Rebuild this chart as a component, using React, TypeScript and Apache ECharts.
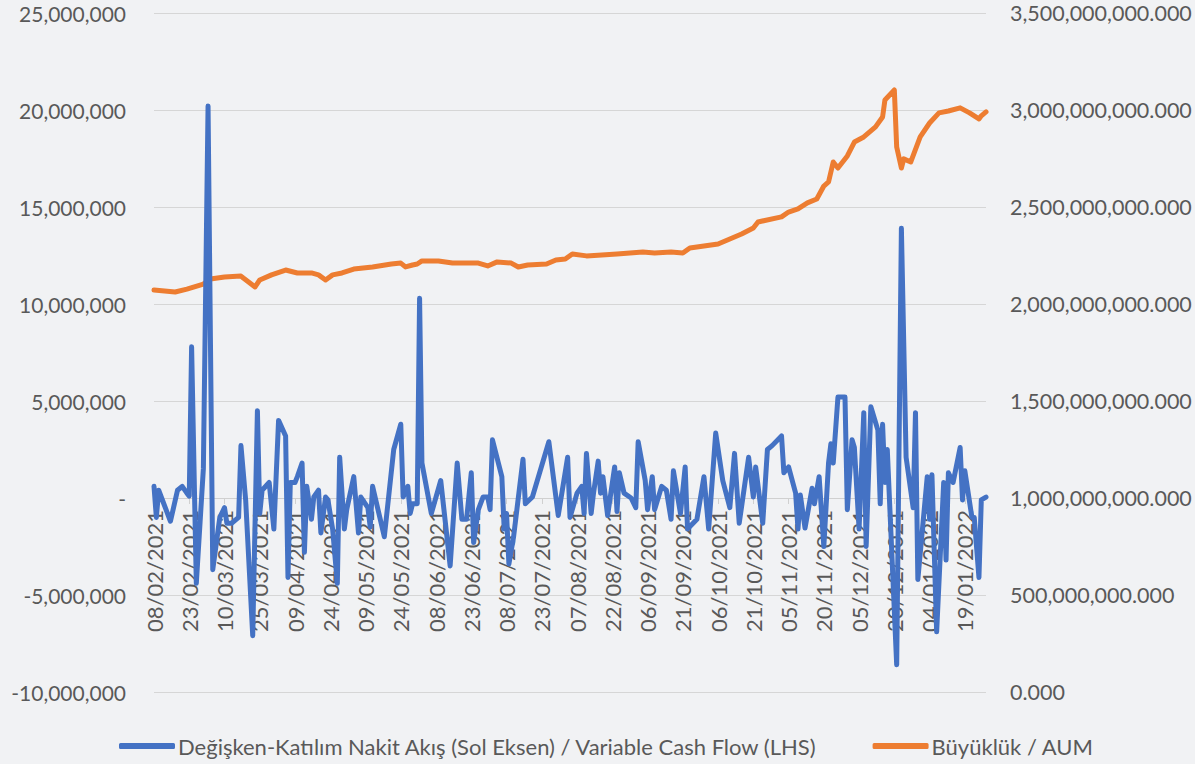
import React, { useEffect, useRef } from "react";
import * as echarts from "echarts";

// Day offsets from 08/02/2021 and cash flow values (millions)
const START_DATE = Date.UTC(2021, 1, 8);
const cashFlowDays = [
  0, 1, 2, 7, 10, 12, 14, 15, 16, 18,
  21, 23, 25, 28, 30, 31, 33, 36, 37, 39,
  42, 44, 45, 46, 49, 51, 53, 56, 57, 58,
  60, 61, 63, 64, 65, 67, 68, 70, 71, 73,
  74, 76, 78, 79, 81, 82, 85, 87, 88, 91,
  92, 93, 98, 102, 105, 106, 108, 109, 110, 112,
  113, 114, 116, 118, 122, 126, 129, 131, 133, 135,
  136, 138, 140, 142, 143, 144, 148, 149, 150, 151,
  153, 157, 158, 161, 168, 172, 176, 177, 180, 182,
  183, 184, 186, 187, 189, 190, 191, 193, 196, 197,
  198, 200, 203, 205, 206, 209, 210, 212, 213, 216,
  218, 220, 221, 224, 226, 227, 231, 234, 236, 239,
  242, 245, 247, 249, 253, 255, 256, 259, 261, 263,
  267, 268, 270, 273, 274, 275, 277, 280, 281, 283,
  285, 287, 288, 289, 291, 294, 295, 297, 298, 300,
  302, 303, 305, 308, 309, 310, 311, 312, 316, 318,
  320, 323, 324, 325, 329, 330, 331, 333, 336, 337,
  338, 340, 343, 344, 345, 348, 349, 351, 352, 354,
];
const cashFlowValues = [
  0.6, -1.0, 0.4, -1.2, 0.4, 0.6, 0.25, 0.1, 7.8, -4.4,
  1.5, 20.2, -3.7, -1.0, -0.5, -1.3, -1.3, -1.0, 2.7, -0.1,
  -7.1, 4.5, -0.8, 0.4, 0.8, -1.6, 4.0, 3.2, -4.1, 0.8,
  0.8, 1.1, 1.8, -2.8, 0.6, -1.1, 0.05, 0.4, -1.8, 0.05,
  -0.1, -1.6, -4.4, 2.1, -1.6, -0.6, 1.1, -1.8, 0.05, -0.5,
  -1.5, 0.6, -2.0, 2.5, 3.8, 0.05, 0.6, -0.8, -0.3, -0.3,
  10.3, 1.8, 0.5, -0.8, 0.9, -3.5, 1.8, -1.1, -1.1, 1.3,
  -2.3, -0.6, 0.05, 0.05, -0.6, 3.0, 1.1, -1.6, -0.8, -3.4,
  -2.0, 2.0, -0.3, 0.05, 2.9, -0.9, 2.1, -1.0, 0.25, 0.6,
  -0.8, 2.3, -0.8, 0.25, 1.9, 0.25, 1.1, -0.9, 1.6, -0.7,
  1.3, 0.25, 0.0, -0.5, 2.9, 0.9, -0.6, 1.1, -0.6, 0.6,
  0.4, -1.1, 1.4, -0.8, 1.6, -1.6, -1.1, 1.1, -1.6, 3.35,
  0.9, -0.5, 2.3, -1.3, 2.1, 0.05, 1.6, -1.3, 2.5, 2.7,
  3.2, 1.3, 1.6, 0.25, -1.6, 0.15, -1.55, 0.5, -0.3, 1.1,
  -2.5, 1.8, 2.8, 1.8, 5.2, 5.2, -0.6, 3.0, 2.6, -1.6,
  4.4, -2.5, 4.7, 3.5, -0.3, 3.8, 0.8, 2.5, -8.6, 13.9,
  2.1, -0.5, 4.4, -4.2, 1.1, -1.1, 1.2, -6.9, 0.8, -3.2,
  1.3, 0.8, 2.6, -0.1, 1.4, -1.0, -1.0, -4.1, -0.1, 0.05,
];

// AUM (millions)
const aumDays = [
  0, 9, 14, 21, 24, 30, 37, 38, 43, 45,
  50, 56, 61, 67, 70, 73, 76, 80, 85, 93,
  101, 105, 107, 110, 112, 114, 121, 127, 131, 138,
  142, 146, 152, 155, 159, 167, 171, 175, 178, 184,
  197, 208, 213, 220, 225, 228, 234, 240, 246, 250,
  255, 257, 267, 270, 274, 278, 282, 285, 287, 289,
  291, 295, 298, 302, 307, 310, 311, 315, 316, 318,
  319, 322, 326, 330, 334, 338, 343, 347, 351, 352,
  354,
];
const aumValues = [
  2072, 2062, 2077, 2103, 2129, 2139, 2144, 2134, 2088, 2124,
  2150, 2175, 2160, 2160, 2150, 2124, 2150, 2160, 2180, 2191,
  2206, 2211, 2191, 2201, 2206, 2222, 2222, 2211, 2211, 2211,
  2196, 2217, 2211, 2191, 2201, 2206, 2227, 2232, 2258, 2248,
  2258, 2268, 2263, 2268, 2263, 2289, 2299, 2309, 2340, 2361,
  2392, 2423, 2449, 2474, 2490, 2521, 2541, 2608, 2629, 2732,
  2701, 2763, 2835, 2861, 2913, 2964, 3052, 3103, 2809, 2701,
  2748, 2732, 2861, 2933, 2985, 2995, 3011, 2985, 2954, 2970,
  2990,
];

const SERIES_CASH = "Değişken-Katılım Nakit Akış (Sol Eksen) / Variable Cash Flow (LHS)";
const SERIES_AUM = "Büyüklük / AUM";

const commas = (n: number) => {
  const neg = n < 0;
  const s = Math.round(Math.abs(n)).toString().replace(/\B(?=(\d{3})+(?!\d))/g, ",");
  return (neg ? "-" : "") + s;
};
const pad = (n: number) => (n < 10 ? "0" + n : "" + n);
const dayLabel = (v: number) => {
  const d = new Date(START_DATE + v * 86400000);
  return `${pad(d.getUTCDate())}/${pad(d.getUTCMonth() + 1)}/${d.getUTCFullYear()}`;
};

const FONT = "Lato";
const TEXT = "#595959";
const GRID_TOP = 13;
const GRID_BOTTOM = 72;
const GRID_HEIGHT = 764 - GRID_TOP - GRID_BOTTOM;
const LEFT_MIN = -10;
const LEFT_MAX = 25;
// distance from grid bottom to the zero line
const ZERO_OFFSET = (GRID_HEIGHT * (0 - LEFT_MIN)) / (LEFT_MAX - LEFT_MIN);

export default function App() {
  const ref = useRef<HTMLDivElement>(null);
  useEffect(() => {
    if (!ref.current) return;
    const chart = echarts.init(ref.current, undefined, { renderer: "svg" });
    chart.setOption({
      animation: false,
      backgroundColor: "#f1f2f4",
      textStyle: { fontFamily: FONT },
      grid: {
        left: 154,
        right: 209,
        top: GRID_TOP,
        bottom: GRID_BOTTOM,
        containLabel: false,
        outerBoundsMode: "none",
      },
      legend: {
        top: 730,
        left: 114,
        itemWidth: 56,
        itemHeight: 6,
        itemGap: 55,
        icon: "roundRect",
        textStyle: { color: TEXT, fontSize: 22, fontFamily: FONT, padding: [0, 0, 0, -2] },
        data: [SERIES_CASH, SERIES_AUM],
      },
      xAxis: {
        type: "value",
        min: 0,
        max: 354,
        interval: 15,
        position: "bottom",
        offset: -ZERO_OFFSET,
        axisLine: { onZero: false, lineStyle: { color: "#d0d0d0", width: 1 } },
        axisTick: { show: true, length: 6, lineStyle: { color: "#d0d0d0" } },
        splitLine: { show: false },
        axisLabel: {
          rotate: 90,
          margin: 12,
          color: TEXT,
          fontSize: 22,
          fontFamily: FONT,
          showMaxLabel: false,
          formatter: (v: number) => dayLabel(v),
        },
      },
      yAxis: [
        {
          type: "value",
          min: LEFT_MIN,
          max: LEFT_MAX,
          interval: 5,
          axisLine: { show: false },
          axisTick: { show: false },
          splitLine: { lineStyle: { color: "#d6d6d6", width: 1.2 } },
          axisLabel: {
            color: TEXT,
            fontSize: 21,
            fontFamily: FONT,
            margin: 28,
            formatter: (v: number) => (v === 0 ? "-" : commas(v * 1e6)),
          },
        },
        {
          type: "value",
          min: 0,
          max: 3500,
          interval: 500,
          position: "right",
          axisLine: { show: false },
          axisTick: { show: false },
          splitLine: { show: false },
          axisLabel: {
            color: TEXT,
            fontSize: 21.5,
            fontFamily: FONT,
            margin: 24,
            formatter: (v: number) => commas(v * 1e6) + ".000",
          },
        },
      ],
      series: [
        {
          name: SERIES_CASH,
          type: "line",
          yAxisIndex: 0,
          symbol: "none",
          z: 3,
          color: "#4472C4",
          lineStyle: { color: "#4472C4", width: 5, cap: "round", join: "round" },
          data: cashFlowDays.map((d, i) => [d, cashFlowValues[i]]),
        },
        {
          name: SERIES_AUM,
          type: "line",
          yAxisIndex: 1,
          symbol: "none",
          z: 2,
          color: "#ED7D31",
          lineStyle: { color: "#ED7D31", width: 5, cap: "round", join: "round" },
          data: aumDays.map((d, i) => [d, aumValues[i]]),
        },
      ],
    });
    return () => chart.dispose();
  }, []);
  return (
    <div
      ref={ref}
      style={{ position: "fixed", left: 0, top: 0, width: 1195, height: 764 }}
    />
  );
}
